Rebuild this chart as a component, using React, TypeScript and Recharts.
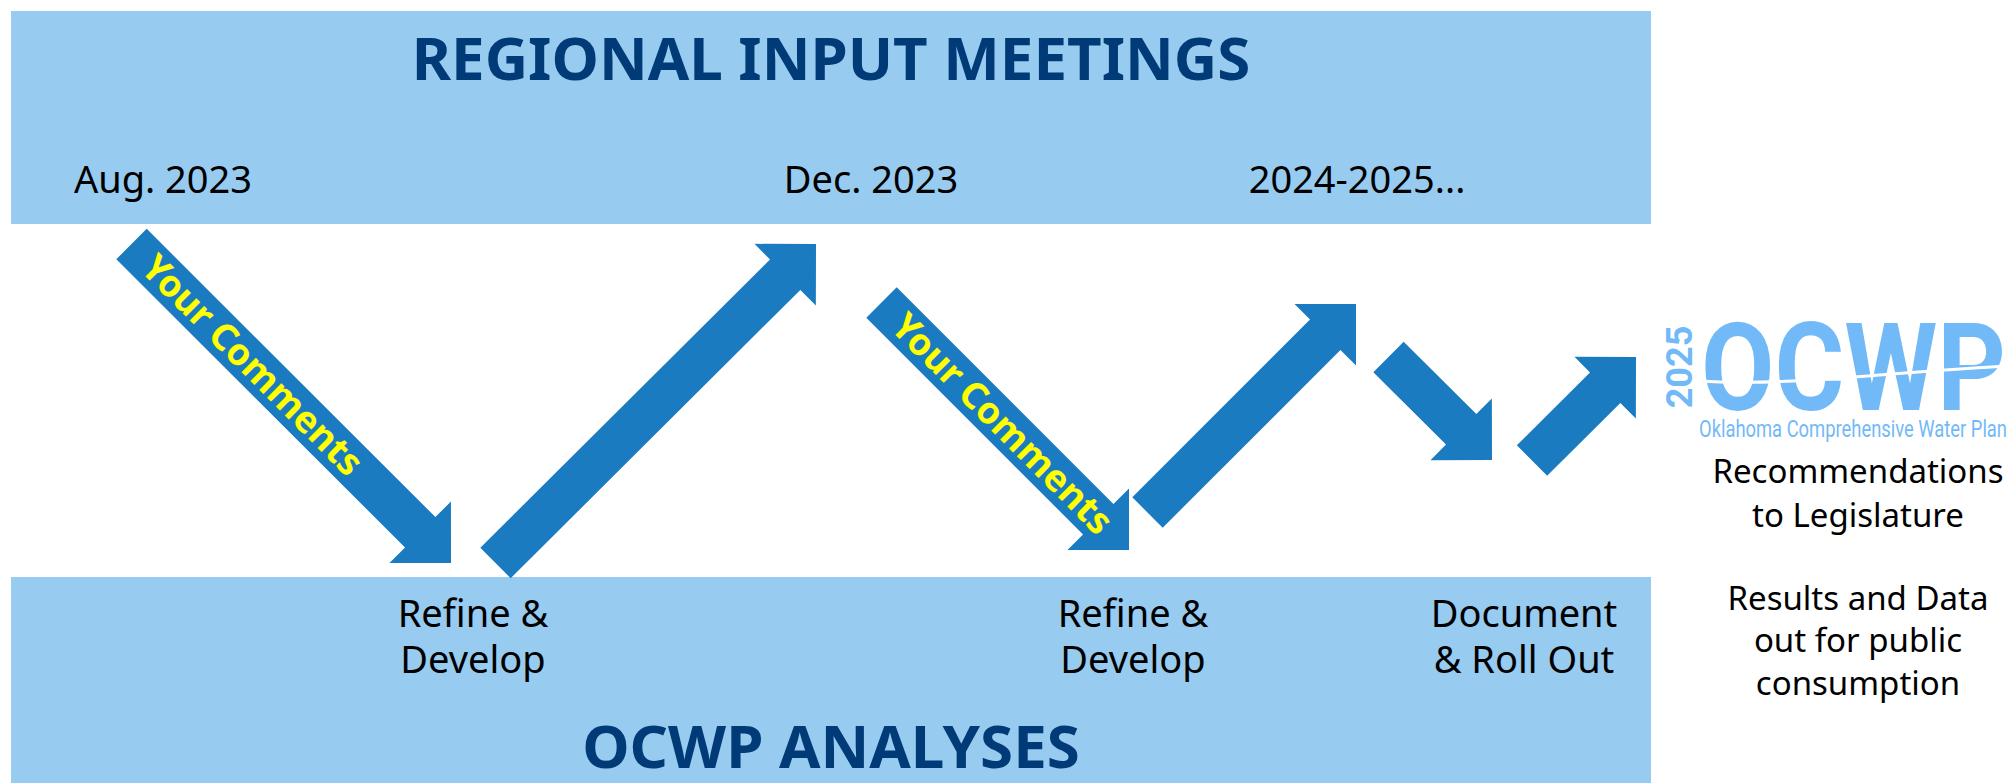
import {
  ComposedChart,
  XAxis,
  YAxis,
  ReferenceArea,
  ReferenceLine,
  ReferenceDot,
  Scatter,
} from 'recharts';

const W = 2011;
const H = 783;
const FONT = '"Noto Sans", "Open Sans", sans-serif';

// bands (diagram units, y grows downward)
const bandTitles = ['REGIONAL INPUT MEETINGS', 'OCWP ANALYSES'];
const bandTop = [11, 577];
const bandBottom = [224, 783];
const bandTitleY = [80, 768];
const bandLeft = 11;
const bandRight = 1651;

// meeting dates in the top band
const meetingDates = ['Aug. 2023', 'Dec. 2023', '2024-2025...'];
const meetingX = [163, 871, 1357];
const meetingY = 193;

// analysis steps in the bottom band
const stepFirst = ['Refine &', 'Refine &', 'Document'];
const stepSecond = ['Develop', 'Develop', '& Roll Out'];
const stepX = [473, 1133, 1524];
const stepY = [627, 673];

// outcome text on the right
const outcomeLines = ['Recommendations', 'to Legislature', 'Results and Data', 'out for public', 'consumption'];
const outcomeY = [483, 527, 610, 652, 695];
const outcomeX = 1858;

// zig-zag arrows: tail -> tip
const arrowTailX = [131.5, 495.5, 881.5, 1147.5, 1388.5, 1532];
const arrowTailY = [244, 563, 302.5, 512.5, 357, 460.5];
const arrowTipX = [451, 816, 1129, 1356, 1492, 1636];
const arrowTipY = [563, 244, 550, 304, 460, 357];
const arrowNotes = ['Your Comments', '', 'Your Comments', '', '', ''];

const logoX = 1856;
const logoY = 367;

const SHAFT = 43;
const HEAD = 87;
const HEAD_LEN = 43.5;

function Arrow(props: any) {
  const { x1, y1, x2, y2, note } = props;
  const dx = x2 - x1;
  const dy = y2 - y1;
  const len = Math.hypot(dx, dy);
  const ux = dx / len;
  const uy = dy / len;
  const nx = -uy;
  const ny = ux;
  const bx = x2 - ux * HEAD_LEN;
  const by = y2 - uy * HEAD_LEN;
  const s = SHAFT / 2;
  const h = HEAD / 2;
  const pts = [
    [x1 + nx * s, y1 + ny * s],
    [bx + nx * s, by + ny * s],
    [bx + nx * h, by + ny * h],
    [x2, y2],
    [bx - nx * h, by - ny * h],
    [bx - nx * s, by - ny * s],
    [x1 - nx * s, y1 - ny * s],
  ];
  const angle = (Math.atan2(dy, dx) * 180) / Math.PI;
  const px = x1 + ux * 24 + nx * 13;
  const py = y1 + uy * 24 + ny * 13;
  return (
    <g>
      <polygon points={pts.map(p => p.join(',')).join(' ')} fill="#1B7BC0" />
      {note && (
        <text
          x={px}
          y={py}
          transform={`rotate(${angle} ${px} ${py})`}
          fontFamily={FONT}
          fontWeight={700}
          fontSize={37}
          fill="#FFFF00"
        >
          {note}
        </text>
      )}
    </g>
  );
}

function Logo({ cx, cy }: any) {
  const blue = '#72B9F8';
  return (
    <g>
      <text
        x={cx - 164}
        y={cy}
        transform={`rotate(-90 ${cx - 164} ${cy})`}
        textAnchor="middle"
        fontFamily="Roboto, sans-serif"
        fontWeight={700}
        fontSize={36}
        fill={blue}
      >
        2025
      </text>
      <text
        x={cx - 155}
        y={cy + 43}
        textLength={305}
        lengthAdjust="spacingAndGlyphs"
        fontFamily="Roboto, sans-serif"
        fontWeight={700}
        fontSize={122}
        fill={blue}
      >
        OCWP
      </text>
      <path
        d={`M ${cx - 158} ${cy + 14} C ${cx - 60} ${cy + 20} ${cx + 40} ${cy + 4} ${cx + 154} ${cy - 1}`}
        stroke="#fff"
        strokeWidth={3}
        fill="none"
      />
      <text
        x={cx - 157}
        y={cy + 70}
        textLength={308}
        lengthAdjust="spacingAndGlyphs"
        fontFamily="Roboto, sans-serif"
        fontSize={24}
        fill={blue}
      >
        Oklahoma Comprehensive Water Plan
      </text>
    </g>
  );
}

const textShape = (size: number, weight: number, color: string) => (p: any) => (
  <text
    x={p.cx}
    y={p.cy}
    textAnchor="middle"
    fontFamily={FONT}
    fontSize={size}
    fontWeight={weight}
    fill={color}
  >
    {p.payload.label}
  </text>
);

export default function App() {
  const titleData = bandTitles.map((label, i) => ({ x: (bandLeft + bandRight) / 2, y: bandTitleY[i], label }));
  const dateData = meetingDates.map((label, i) => ({ x: meetingX[i], y: meetingY, label }));
  const stepData = [
    ...stepFirst.map((label, i) => ({ x: stepX[i], y: stepY[0], label })),
    ...stepSecond.map((label, i) => ({ x: stepX[i], y: stepY[1], label })),
  ];
  const outcomeData = outcomeLines.map((label, i) => ({ x: outcomeX, y: outcomeY[i], label }));

  return (
    <div style={{ position: 'absolute', left: 0, top: 0, width: W, height: H, background: '#fff' }}>
      <ComposedChart width={W} height={H} margin={{ top: 0, right: 0, bottom: 0, left: 0 }}>
        <XAxis type="number" dataKey="x" domain={[0, W]} hide allowDataOverflow />
        <YAxis type="number" dataKey="y" domain={[0, H]} reversed hide allowDataOverflow />

        {bandTop.map((t, i) => (
          <ReferenceArea
            key={`band-${i}`}
            x1={bandLeft}
            x2={bandRight}
            y1={t}
            y2={bandBottom[i]}
            fill="#97CBF0"
            fillOpacity={1}
            stroke="none"
            ifOverflow="visible"
          />
        ))}

        {arrowTailX.map((tx, i) => (
          <ReferenceLine
            key={`arrow-${i}`}
            segment={[
              { x: tx, y: arrowTailY[i] },
              { x: arrowTipX[i], y: arrowTipY[i] },
            ]}
            ifOverflow="visible"
            shape={(p: any) => <Arrow {...p} note={arrowNotes[i]} />}
          />
        ))}

        <Scatter data={titleData} dataKey="y" isAnimationActive={false} shape={textShape(60, 700, '#003B78')} />
        <Scatter data={dateData} dataKey="y" isAnimationActive={false} shape={textShape(38, 400, '#000')} />
        <Scatter data={stepData} dataKey="y" isAnimationActive={false} shape={textShape(38, 400, '#000')} />
        <Scatter data={outcomeData} dataKey="y" isAnimationActive={false} shape={textShape(33, 400, '#000')} />

        <ReferenceDot x={logoX} y={logoY} ifOverflow="visible" shape={(p: any) => <Logo {...p} />} />
      </ComposedChart>
    </div>
  );
}
